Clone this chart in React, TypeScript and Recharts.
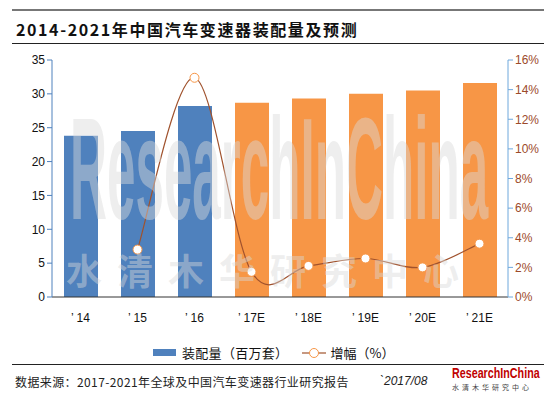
import { ComposedChart, Bar, Line, XAxis, YAxis, Cell } from 'recharts';

const years = ['’   14', '’   15', '’   16', '’   17E', '’   18E', '’   19E', '’   20E', '’   21E'];
const volume = [23.8, 24.5, 28.2, 28.7, 29.3, 30.0, 30.5, 31.6];
const growth = [null, 3.2, 14.8, 1.7, 2.1, 2.6, 2.0, 3.6];
const leftTicks = [0, 5, 10, 15, 20, 25, 30, 35];
const rightTicks = [0, 2, 4, 6, 8, 10, 12, 14, 16];

const rows = years.map((y, i) => ({ year: y, volume: volume[i], growth: growth[i], est: i >= 3 }));

const BLUE = '#4F81BD';
const ORANGE = '#F79646';
const LINE = '#A0522D';
const cjk = '"Noto Sans CJK SC", sans-serif';
const sans = '"Liberation Sans", Arial, sans-serif';

// Excel-style smoothed line (Catmull-Rom through the points)
function excelCurve(ctx: any) {
  let pts: [number, number][] = [];
  return {
    areaStart() {},
    areaEnd() {},
    lineStart() { pts = []; },
    point(x: number, y: number) { pts.push([+x, +y]); },
    lineEnd() {
      if (!pts.length) return;
      ctx.moveTo(pts[0][0], pts[0][1]);
      for (let i = 0; i < pts.length - 1; i++) {
        const p0 = pts[i - 1] || pts[i];
        const p1 = pts[i];
        const p2 = pts[i + 1];
        const p3 = pts[i + 2] || p2;
        ctx.bezierCurveTo(
          p1[0] + (p2[0] - p0[0]) / 6, p1[1] + (p2[1] - p0[1]) / 6,
          p2[0] - (p3[0] - p1[0]) / 6, p2[1] - (p3[1] - p1[1]) / 6,
          p2[0], p2[1]
        );
      }
    },
  };
}

export default function App() {
  return (
    <div style={{ position: 'absolute', left: 0, top: 0, width: 559, height: 395, background: '#fff', overflow: 'hidden' }}>
      <div style={{ position: 'absolute', left: 12, top: 9, width: 532, height: 2, background: '#777' }} />
      <div style={{ position: 'absolute', left: 16, top: 17, fontFamily: cjk, fontWeight: 700, fontSize: 16, color: '#111', letterSpacing: 1.6 }}>
        2014-2021年中国汽车变速器装配量及预测
      </div>
      <div style={{ position: 'absolute', left: 12, top: 43, width: 532, height: 1, background: '#222' }} />

      <div style={{ position: 'absolute', left: 0, top: 0 }}>
        <ComposedChart width={559} height={340} data={rows} margin={{ top: 60, right: 11, bottom: 13, left: 22 }} barSize={34}>
          <XAxis dataKey="year" tickLine={false} axisLine={{ stroke: '#333' }}
            tick={{ fontSize: 12, fill: '#111', fontFamily: sans }} tickMargin={10} height={30} />
          <YAxis yAxisId="l" domain={[0, 35]} ticks={leftTicks} width={30} interval={0}
            axisLine={{ stroke: BLUE }} tickLine={{ stroke: BLUE }} tickSize={5}
            tick={{ fontSize: 12, fill: '#111', fontFamily: sans }} />
          <YAxis yAxisId="r" orientation="right" domain={[0, 16]} ticks={rightTicks} width={40} interval={0}
            axisLine={{ stroke: '#6FA8DC' }} tickLine={{ stroke: '#6FA8DC' }} tickSize={5}
            tickFormatter={(v: number) => `${v}%`}
            tick={{ fontSize: 12, fill: '#9C4A2A', fontFamily: sans }} />
          <Bar yAxisId="l" dataKey="volume" isAnimationActive={false}>
            {rows.map((r, i) => <Cell key={i} fill={r.est ? ORANGE : BLUE} />)}
          </Bar>
          <Line yAxisId="r" dataKey="growth" type={excelCurve as any} stroke={LINE} strokeWidth={1.2}
            dot={{ r: 4.5, fill: '#fff', stroke: ORANGE, strokeWidth: 1 }} isAnimationActive={false} />
        </ComposedChart>
      </div>

      {/* watermark */}
      <svg width={559} height={395} style={{ position: 'absolute', left: 0, top: 0, pointerEvents: 'none' }}>
        <g transform="translate(70,219) scale(0.353,1)">
          <text x={0} y={0} fontFamily={sans} fontWeight={700} fontSize={145} fill="#d9d9d9" fillOpacity={0.45}>ResearchInChina</text>
        </g>
        <text x={66} y={285} fontFamily={cjk} fontWeight={700} fontSize={36} letterSpacing={15}
          fill="#d9d9d9" fillOpacity={0.45}>水清木华研究中心</text>
      </svg>

      {/* legend */}
      <div style={{ position: 'absolute', left: 153, top: 343, display: 'flex', alignItems: 'center', fontFamily: cjk, fontSize: 13, color: '#111' }}>
        <div style={{ width: 23, height: 7, background: BLUE, marginRight: 6 }} />
        <span style={{ letterSpacing: 0.3 }}>装配量（百万套）</span>
        <svg width={24} height={12} style={{ marginLeft: 14, marginRight: 4 }}>
          <line x1={0} y1={6} x2={24} y2={6} stroke={LINE} strokeWidth={1.2} />
          <circle cx={12} cy={6} r={4.5} fill="#fff" stroke={ORANGE} />
        </svg>
        <span>增幅（%）</span>
      </div>
      <div style={{ position: 'absolute', left: 12, top: 364, width: 532, height: 1, background: '#222' }} />

      <div style={{ position: 'absolute', left: 15, top: 373, fontFamily: cjk, fontSize: 12, letterSpacing: 0.4, color: '#222', whiteSpace: 'nowrap' }}>
        数据来源：2017-2021年全球及中国汽车变速器行业研究报告
      </div>
      <div style={{ position: 'absolute', left: 380, top: 374, fontFamily: sans, fontStyle: 'italic', fontSize: 12, color: '#222' }}>
        `2017/08
      </div>
      <div style={{ position: 'absolute', left: 452, top: 366, width: 100 }}>
        <svg width={100} height={15} style={{ display: 'block' }}>
          <g transform="translate(0,12) scale(0.767,1)">
            <text x={0} y={0} fontFamily={sans} fontWeight={700} fontSize={14} fill="#C00000">ResearchInChina</text>
          </g>
        </svg>
        <div style={{ fontFamily: cjk, fontSize: 7, color: '#444', letterSpacing: 3, lineHeight: '8px', marginTop: 2 }}>水清木华研究中心</div>
      </div>
    </div>
  );
}
